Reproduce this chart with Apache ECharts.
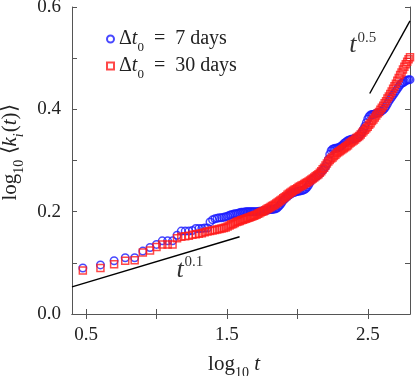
<!DOCTYPE html>
<html>
<head>
<meta charset="utf-8">
<script src="https://cdn.jsdelivr.net/npm/echarts@6/dist/echarts.min.js"></script>
<style>
html, body { margin: 0; padding: 0; background: #fff; }
#chart { width: 415px; height: 376px; }
</style>
</head>
<body>
<div id="chart"></div>
<script>
// log10 t for each sample (shared by both series)
var logT = [
  0.477, 0.602, 0.699, 0.778, 0.845, 0.903, 0.954, 1.000, 1.041, 1.079,
  1.114, 1.146, 1.176, 1.204, 1.230, 1.255, 1.279, 1.301, 1.322, 1.342,
  1.362, 1.380, 1.398, 1.415, 1.431, 1.447, 1.462, 1.477, 1.491, 1.505,
  1.519, 1.531, 1.544, 1.556, 1.568, 1.580, 1.591, 1.602, 1.613, 1.623,
  1.633, 1.643, 1.653, 1.663, 1.672, 1.681, 1.690, 1.699,
  1.71, 1.72, 1.73, 1.74, 1.75, 1.76, 1.77, 1.78, 1.79, 1.80,
  1.81, 1.82, 1.83, 1.84, 1.85, 1.86, 1.87, 1.88, 1.89, 1.90,
  1.91, 1.92, 1.93, 1.94, 1.95, 1.96, 1.97, 1.98, 1.99, 2.00,
  2.01, 2.02, 2.03, 2.04, 2.05, 2.06, 2.07, 2.08, 2.09, 2.10,
  2.11, 2.12, 2.13, 2.14, 2.15, 2.16, 2.17, 2.18, 2.19, 2.20,
  2.21, 2.22, 2.23, 2.24, 2.25, 2.26, 2.27, 2.28, 2.29, 2.30,
  2.31, 2.32, 2.33, 2.34, 2.35, 2.36, 2.37, 2.38, 2.39, 2.40,
  2.41, 2.42, 2.43, 2.44, 2.45, 2.46, 2.47, 2.48, 2.49, 2.50,
  2.51, 2.52, 2.53, 2.54, 2.55, 2.56, 2.57, 2.58, 2.59, 2.60,
  2.61, 2.62, 2.63, 2.64, 2.65, 2.66, 2.67, 2.68, 2.69, 2.70,
  2.71, 2.72, 2.73, 2.74, 2.75, 2.76, 2.77, 2.78, 2.79, 2.80
];

// log10 <k_i(t)>, dt0 = 7 days (blue circles)
var days7 = [
  0.090, 0.096, 0.104, 0.110, 0.110, 0.123, 0.130, 0.136, 0.143, 0.143,
  0.143, 0.154, 0.162, 0.162, 0.162, 0.163, 0.167, 0.167, 0.167, 0.168,
  0.168, 0.180, 0.184, 0.186, 0.187, 0.188, 0.188, 0.189, 0.190, 0.191,
  0.193, 0.194, 0.195, 0.196, 0.196, 0.197, 0.198, 0.199, 0.199, 0.199,
  0.200, 0.200, 0.200, 0.200, 0.200, 0.200, 0.200, 0.200,
  0.200, 0.200, 0.201, 0.201, 0.201, 0.202, 0.202, 0.203, 0.203, 0.204,
  0.204, 0.204, 0.205, 0.205, 0.206, 0.208, 0.211, 0.214, 0.218, 0.222,
  0.225, 0.228, 0.230, 0.232, 0.234, 0.236, 0.237, 0.238, 0.239, 0.240,
  0.240, 0.241, 0.241, 0.242, 0.243, 0.245, 0.248, 0.252, 0.257, 0.262,
  0.264, 0.266, 0.268, 0.270, 0.272, 0.275, 0.278, 0.281, 0.284, 0.288,
  0.294, 0.302, 0.312, 0.319, 0.322, 0.323, 0.324, 0.324, 0.325, 0.326,
  0.328, 0.330, 0.333, 0.335, 0.337, 0.339, 0.340, 0.341, 0.342, 0.342,
  0.343, 0.344, 0.345, 0.348, 0.352, 0.356, 0.361, 0.367, 0.374, 0.381,
  0.386, 0.389, 0.390, 0.390, 0.391, 0.392, 0.393, 0.394, 0.395, 0.397,
  0.399, 0.402, 0.406, 0.411, 0.416, 0.420, 0.424, 0.428, 0.432, 0.436,
  0.440, 0.444, 0.448, 0.451, 0.452, 0.454, 0.456, 0.457, 0.458, 0.458
];

// log10 <k_i(t)>, dt0 = 30 days (red squares)
var days30 = [
  0.085, 0.090, 0.097, 0.104, 0.105, 0.120, 0.124, 0.131, 0.136, 0.136,
  0.136, 0.148, 0.151, 0.152, 0.153, 0.155, 0.156, 0.157, 0.158, 0.160,
  0.161, 0.162, 0.163, 0.164, 0.165, 0.166, 0.167, 0.168, 0.169, 0.171,
  0.173, 0.175, 0.176, 0.178, 0.180, 0.181, 0.182, 0.183, 0.184, 0.185,
  0.186, 0.187, 0.188, 0.189, 0.190, 0.191, 0.192, 0.193,
  0.194, 0.196, 0.197, 0.199, 0.200, 0.201, 0.203, 0.204, 0.206, 0.207,
  0.209, 0.211, 0.212, 0.214, 0.216, 0.218, 0.220, 0.222, 0.224, 0.226,
  0.228, 0.230, 0.233, 0.235, 0.237, 0.239, 0.241, 0.243, 0.244, 0.246,
  0.248, 0.249, 0.251, 0.252, 0.254, 0.256, 0.257, 0.259, 0.261, 0.263,
  0.265, 0.267, 0.269, 0.271, 0.273, 0.276, 0.279, 0.283, 0.286, 0.290,
  0.294, 0.298, 0.301, 0.304, 0.306, 0.309, 0.311, 0.314, 0.316, 0.318,
  0.320, 0.322, 0.324, 0.326, 0.328, 0.330, 0.333, 0.335, 0.337, 0.339,
  0.341, 0.344, 0.346, 0.348, 0.351, 0.354, 0.357, 0.360, 0.363, 0.366,
  0.370, 0.373, 0.377, 0.380, 0.384, 0.388, 0.392, 0.395, 0.399, 0.403,
  0.407, 0.412, 0.416, 0.421, 0.425, 0.430, 0.435, 0.440, 0.445, 0.450,
  0.456, 0.461, 0.467, 0.472, 0.478, 0.483, 0.488, 0.493, 0.498, 0.502
];

// guide lines t^0.1 and t^0.5
var slowGuide = [[0.40, 0.053], [1.59, 0.151]];
var fastGuide = [[2.514, 0.431], [2.80, 0.573]];
var guideNotes = [
  {value: [1.237, 0.086], label: '0.1'},
  {value: [2.464, 0.525], label: '0.5'}
];

var xTicks = [0.5, 1.0, 1.5, 2.0, 2.5];
var xTickLabels = [0.5, 1.5, 2.5];
var yTickLabels = [0, 0.2, 0.4, 0.6];

var serif = 'Liberation Serif';
var ink = '#222';
var frame = '#555';

function pairs(ys) {
  var out = [];
  for (var i = 0; i < logT.length; i++) out.push([logT[i], ys[i]]);
  return out;
}

var myChart = echarts.init(document.getElementById('chart'));

function richSet(size) {
  var sub = Math.round(size * 0.65);
  return {
    r: {fontFamily: serif, fontSize: size, color: ink, lineHeight: size + 4},
    i: {fontFamily: serif, fontStyle: 'italic', fontSize: size, color: ink, lineHeight: size + 4},
    s: {fontFamily: serif, fontSize: sub, color: ink, lineHeight: size + 4, verticalAlign: 'bottom', padding: [0, 0, -3, 0]},
    si: {fontFamily: serif, fontStyle: 'italic', fontSize: sub, color: ink, lineHeight: size + 4, verticalAlign: 'bottom', padding: [0, 1, -3, 0]}
  };
}

function axisFrame() {
  return {show: true, lineStyle: {color: frame, width: 1}};
}

var option = {
  animation: false,
  backgroundColor: '#fff',
  grid: {left: 72, right: 5, top: 7, bottom: 62, containLabel: false, outerBoundsMode: 'none'},
  legend: {
    orient: 'vertical',
    left: 101,
    top: 24,
    itemWidth: 7,
    itemHeight: 7,
    itemGap: 2,
    data: ['7', '30'],
    formatter: function (name) {
      return '{r|Δ}{i|t}{s|0}{r|  =  ' + name + ' days}';
    },
    textStyle: {rich: richSet(20)}
  },
  xAxis: [
    {
      type: 'value', min: 0.4, max: 2.8,
      name: '{r|log}{s|10}{i| t}',
      nameLocation: 'middle', nameGap: 38,
      nameTextStyle: {rich: richSet(21), padding: [0, 14, 0, 0]},
      axisLine: axisFrame(),
      splitLine: {show: false},
      axisTick: {inside: true, length: 5, customValues: xTicks, lineStyle: {color: frame}},
      axisLabel: {
        customValues: xTickLabels, margin: 12,
        fontFamily: serif, fontSize: 19, color: ink,
        formatter: function (v) { return v.toFixed(1); }
      }
    },
    {
      type: 'value', min: 0.4, max: 2.8, position: 'top',
      axisLine: axisFrame(),
      splitLine: {show: false},
      axisTick: {inside: true, length: 5, customValues: xTicks, lineStyle: {color: frame}},
      axisLabel: {show: false}
    }
  ],
  yAxis: [
    {
      type: 'value', min: 0, max: 0.6, interval: 0.1,
      name: '{r|log}{s|10}{r| ⟨}{i|k}{si|i}{r|(}{i|t}{r|)⟩}',
      nameLocation: 'middle', nameGap: 48, nameRotate: 90,
      nameTextStyle: {rich: richSet(21), padding: [0, 0, 0, 16]},
      axisLine: axisFrame(),
      splitLine: {show: false},
      axisTick: {inside: true, length: 5, lineStyle: {color: frame}},
      axisLabel: {
        customValues: yTickLabels, margin: 11,
        fontFamily: serif, fontSize: 19, color: ink,
        formatter: function (v) { return v.toFixed(1); }
      }
    },
    {
      type: 'value', min: 0, max: 0.6, interval: 0.1, position: 'right',
      axisLine: axisFrame(),
      splitLine: {show: false},
      axisTick: {inside: true, length: 5, lineStyle: {color: frame}},
      axisLabel: {show: false}
    }
  ],
  series: [
    {
      name: '7', type: 'scatter', symbol: 'circle', symbolSize: 7.5,
      itemStyle: {color: 'rgba(0,0,0,0)', borderColor: '#1a1aff', borderWidth: 1.5},
      data: pairs(days7)
    },
    {
      name: '30', type: 'scatter', symbol: 'rect', symbolSize: 7,
      itemStyle: {color: 'rgba(0,0,0,0)', borderColor: '#ff1a1a', borderWidth: 1.5},
      data: pairs(days30)
    },
    {
      type: 'line', data: slowGuide, symbol: 'none', silent: true,
      lineStyle: {color: '#000', width: 1.4}
    },
    {
      type: 'line', data: fastGuide, symbol: 'none', silent: true,
      lineStyle: {color: '#000', width: 1.4}
    },
    {
      type: 'scatter', symbolSize: 0, silent: true,
      data: guideNotes,
      label: {
        show: true, position: 'inside',
        formatter: function (p) { return '{t|t}{e|' + p.data.label + '}'; },
        rich: {
          t: {fontFamily: serif, fontStyle: 'italic', fontSize: 26, color: '#000', lineHeight: 28},
          e: {fontFamily: serif, fontSize: 15, color: '#000', lineHeight: 28, verticalAlign: 'top', padding: [-1, 0, 0, 1]}
        }
      }
    }
  ]
};

myChart.setOption(option);
</script>
</body>
</html>
